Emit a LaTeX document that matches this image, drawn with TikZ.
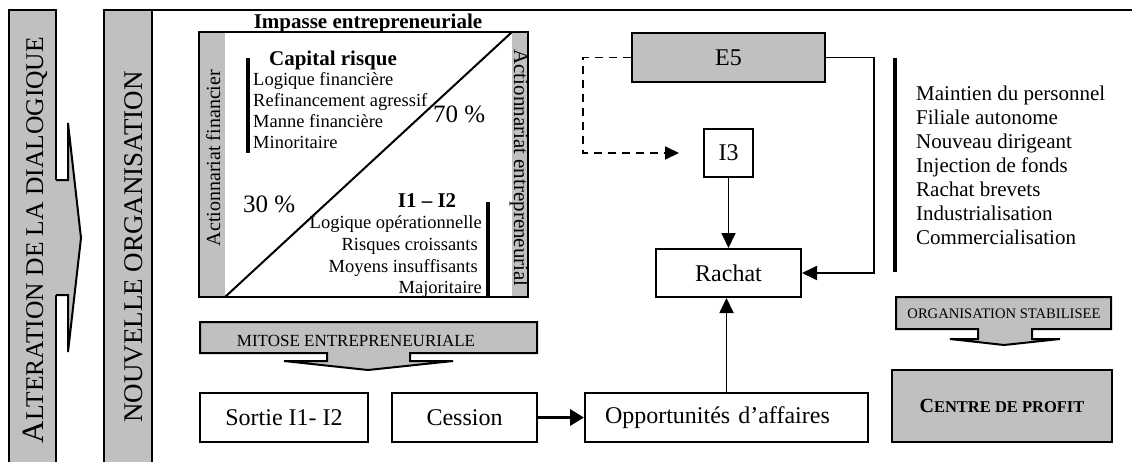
\documentclass[tikz,border=0pt]{standalone}
\usepackage{fontspec}
\setmainfont{Liberation Serif}
\usetikzlibrary{arrows.meta,calc}
\definecolor{boxgray}{RGB}{192,192,192}
\newcommand\myfs[1]{\fontsize{#1}{#1}\selectfont}
\begin{document}
\begin{tikzpicture}[x=1pt,y=-1pt,
  lw/.style={line width=2pt},
  box/.style={draw=black, line width=2pt, fill=white, inner sep=0pt, font=\myfs{24}},
  graybox/.style={box, fill=boxgray},
  conn/.style={line width=1.8pt},
  arr/.style={conn, -{Triangle[length=15pt,width=14pt]}},
  thickarr/.style={line width=3.5pt, -{Triangle[length=14pt,width=16pt]}},
  dasharr/.style={conn, dash pattern=on 8pt off 6pt, -{Triangle[length=14pt,width=13pt]}},
  bar/.style={line width=3.5pt},
  lst/.style={inner sep=0pt, font=\myfs{18.5}},
  rlst/.style={inner sep=0pt, font=\myfs{21}},
  ttl/.style={inner sep=0pt, font=\bfseries\myfs{21}},
  pct/.style={inner sep=0pt, font=\myfs{25}},
  coltext/.style={inner sep=0pt, rotate=90, anchor=base},
  bandtext/.style={inner sep=0pt, anchor=base},
]
\useasboundingbox (0,0) rectangle (1132,461);
\clip (0,0) rectangle (1132,461);

% left columns
\draw[lw, fill=boxgray] (9,10) rectangle (56,480);
\draw[lw, fill=boxgray] (104,10) rectangle (152,480);
\fill[boxgray] (50,180) -- (68,180) -- (68,123) -- (81,238) -- (68,352) -- (68,295) -- (50,295) -- cycle;
\draw[lw, line join=miter] (56,180) -- (68,180) -- (68,123) -- (81,238) -- (68,352) -- (68,295) -- (56,295);
\node[coltext] (alt) at (43,240) {{\myfs{31}A}{\myfs{25.5}LTERATION DE LA DIALOGIQUE}};
\node[coltext] (nouv) at (142,247) {\myfs{27}NOUVELLE ORGANISATION};

% frame top line
\draw[lw] (152,10) -- (1132,10);

% impasse box
\fill[boxgray] (199,32) rectangle (225,297);
\fill[boxgray] (512,32) rectangle (528,297);
\draw[lw] (199,32) rectangle (528,297);
\draw[lw] (225,297) -- (512,32);
\node[ttl, anchor=base] (imp) at (368,28) {Impasse entrepreneuriale};
\node[inner sep=0pt, rotate=90, anchor=base, font=\myfs{20}] (actf) at (220,158) {Actionnariat financier};
\node[inner sep=0pt, rotate=-90, anchor=base, font=\myfs{21}] (acte) at (514,168) {Actionnariat entrepreneurial};
\node[ttl, anchor=base] (cr) at (333,65) {Capital risque};
\draw[bar] (248,58) -- (248,153);
\foreach \t [count=\i] in {Logique financière, Refinancement agressif, Manne financière, Minoritaire}
  \node[lst, anchor=base west] (cr\i) at (253,{85+21*(\i-1)}) {\t};
\node[pct, anchor=base west] (p70) at (433,122) {70 \%};
\node[pct, anchor=base west] (p30) at (243,212) {30 \%};
\node[ttl, anchor=base] (ii) at (427,207) {I1 – I2};
\node[lst, anchor=base east] (ii1) at (482,228) {Logique opérationnelle};
\node[lst, anchor=base east] (ii2) at (478,250) {Risques croissants};
\node[lst, anchor=base east] (ii3) at (478,272) {Moyens insuffisants};
\node[lst, anchor=base east] (ii4) at (482,293) {Majoritaire};
\draw[bar] (488,202) -- (488,297);

% mitose arrow
\draw[lw, fill=boxgray, line join=miter] (200,322) -- (537,322) -- (537,353) -- (410,353) -- (410,361) -- (453,361) -- (368,370) -- (284,361) -- (327,361) -- (327,353) -- (200,353) -- cycle;
\node[bandtext, font=\myfs{17}] (mit) at (356,346) {MITOSE ENTREPRENEURIALE};

% organisation stabilisee arrow
\draw[lw, fill=boxgray, line join=miter] (896,297) -- (1111,297) -- (1111,329) -- (1032,329) -- (1032,339) -- (1060,339) -- (1004,345) -- (950,339) -- (978,339) -- (978,329) -- (896,329) -- cycle;
\node[bandtext, font=\myfs{14.6}] (orgs) at (1004,318) {ORGANISATION STABILISEE};

% boxes
\node[box, minimum width=168pt, minimum height=49pt] (sortie) at (284,417.5) {Sortie I1- I2};
\node[box, minimum width=145pt, minimum height=49pt] (cession) at (464.5,417.5) {Cession};
\node[box, text width=243pt, inner xsep=20pt, align=left, minimum height=49pt] (opp) at (726.5,417.5) {Opportunités d’affaires};
\node[box, minimum width=145pt, minimum height=48pt] (rachat) at (728.5,273) {Rachat};
\node[box, minimum width=49pt, minimum height=48pt] (i3) at (728.5,153) {I3};
\node[graybox, minimum width=193pt, minimum height=49pt] (e5) at (728.5,57.5) {E5};
\node[graybox, minimum width=220pt, minimum height=72pt, font=\bfseries] (centre) at (1002,406) {\myfs{20}C\myfs{16.5}ENTRE DE PROFIT};

% connectors
\coordinate (dashend) at (679,153);
\draw[dasharr] (e5.west) -- ++(-48,0) |- (dashend);
\draw[arr] (i3.south) -- (rachat.north);
\draw[arr] (e5.east) -- ++(48,0) |- (rachat.east);
\draw[arr] (opp.north) -- (opp.north |- rachat.south);
\draw[thickarr] (cession.east) -- (opp.west);

% right list
\draw[bar] (895,58) -- (895,272);
\foreach \t [count=\i] in {Maintien du personnel, Filiale autonome, Nouveau dirigeant, Injection de fonds, Rachat brevets, Industrialisation, Commercialisation}
  \node[rlst, anchor=base west] (rl\i) at (916,{100+24*(\i-1)}) {\t};
\end{tikzpicture}
\end{document}
